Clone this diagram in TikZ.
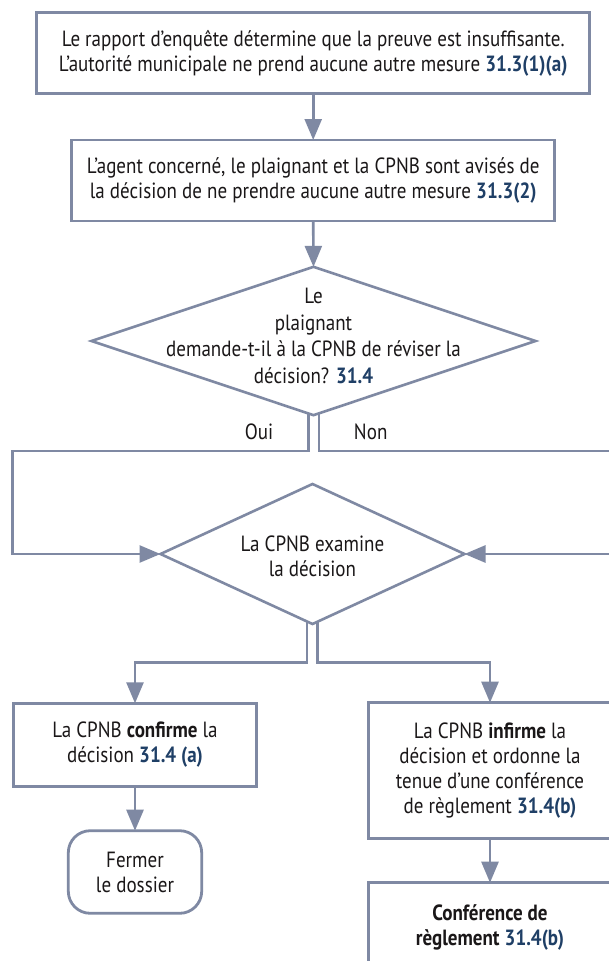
\documentclass[tikz,border=0pt]{standalone}
\usepackage{fontspec}
\setmainfont{PT Sans}[FakeStretch=0.865]
\usetikzlibrary{arrows.meta,shapes.geometric}
\definecolor{ln}{HTML}{7F89A3}
\definecolor{rfc}{HTML}{1F3F66}
\definecolor{tx}{HTML}{1A1718}
\newcommand{\refn}[1]{\textbf{\textcolor{rfc}{#1}}}
\begin{document}
\begin{tikzpicture}[x=1pt,y=-1pt,
  txt/.style={text=tx,align=center,inner sep=0pt,font=\fontsize{22}{25}\selectfont},
  box/.style={txt,draw=ln,line width=2.8pt,outer sep=0pt},
  dia/.style={diamond,draw=ln,line width=2.6pt,inner sep=0pt,outer sep=0pt},
  con/.style={draw=ln,line width=2.6pt},
  arr/.style={con,-{Triangle[length=21pt,width=17pt]}}]
\useasboundingbox (0,0) rectangle (609,961);
\clip (0,0) rectangle (609,961);
\fill[white] (0,0) rectangle (609,961);
% boxes
\node[box,minimum width=553pt,minimum height=80.6pt] (b1) at (313.2,53)
  {Le rapport d’enquête détermine que la preuve est insuffisante.\\L’autorité municipale ne prend aucune autre mesure \refn{31.3(1)(a)}};
\node[box,minimum width=483pt,minimum height=81pt] (b2) at (313.2,180.5)
  {L’agent concerné, le plaignant et la CPNB sont avisés de\\la décision de ne prendre aucune autre mesure \refn{31.3(2)}};
% diamond 1
\node[dia,minimum width=444pt,minimum height=148.3pt] (d1) at (313.5,341) {};
\node[txt,font=\fontsize{22}{26.7}\selectfont] (d1t) at (313.5,336)
  {Le\\plaignant\\demande-t-il à la CPNB de réviser la\\décision? \refn{31.4}};
\node[txt] (oui) at (259,431.7) {Oui};
\node[txt] (non) at (370.7,431.7) {Non};
% diamond 2
\node[dia,minimum width=304pt,minimum height=140pt] (d2) at (312.5,554) {};
\node[txt] (d2t) at (312.5,556) {La CPNB examine\\la décision};
% lower boxes
\node[box,minimum width=243.4pt,minimum height=83.4pt] (c) at (135,745)
  {La CPNB \textbf{confirme} la\\décision \refn{31.4 (a)}};
\node[box,rounded corners=22pt,minimum width=133.4pt,minimum height=82.6pt] (f) at (135,872)
  {Fermer\\le dossier};
\node[box,minimum width=243.4pt,minimum height=135.6pt] (i) at (490,770.5)
  {La CPNB \textbf{infirme} la\\décision et ordonne la\\tenue d’une conférence\\de règlement \refn{31.4(b)}};
\node[box,minimum width=243.4pt,minimum height=90pt] (k) at (490,927.7)
  {\textbf{Conférence de}\\\textbf{règlement} \refn{31.4(b)}};
% helper coordinates
\coordinate (hl) at (12.3,451);
\coordinate (hr) at (625,451);
\coordinate (hy) at (0,662.7);
% connectors
\draw[arr] (b1.south) -- (b2.north);
\draw[arr] (b2.south) -- (d1.north);
\draw[arr] ([shift={(-5,-1.6)}]d1.south) |- (hl) |- (d2.west);
\draw[arr] ([shift={(5.5,-1.8)}]d1.south) |- (hr) |- (d2.east);
\draw[arr] ([shift={(-5.5,-2.5)}]d2.south) |- (c.north |- hy) -- (c.north);
\draw[arr] ([shift={(5,-2.3)}]d2.south) |- (i.north |- hy) -- (i.north);
\draw[arr] (c.south) -- (f.north);
\draw[arr] (i.south) -- (k.north);
\end{tikzpicture}
\end{document}
